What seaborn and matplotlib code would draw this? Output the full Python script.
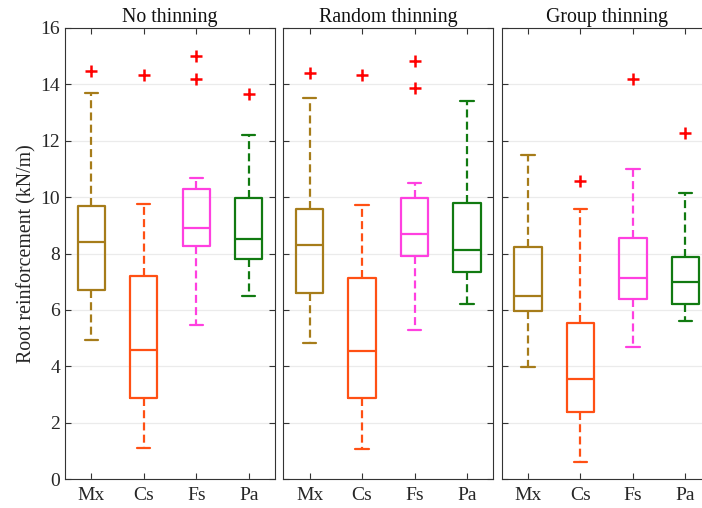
import numpy as np
import matplotlib
matplotlib.use("Agg")
import matplotlib.pyplot as plt
import seaborn as sns

# ---------------- data ----------------
species = ["Mx", "Cs", "Fs", "Pa"]
treatments = ["No thinning", "Random thinning", "Group thinning"]
colors = ["#A67C1A", "#FF5014", "#FF40E0", "#117A11"]

whisker_low = [[4.92, 1.09, 5.47, 6.50],
               [4.84, 1.06, 5.27, 6.22],
               [3.96, 0.60, 4.69, 5.60]]
quart1 = [[6.72, 2.88, 8.25, 7.82],
          [6.60, 2.86, 7.91, 7.35],
          [5.97, 2.39, 6.37, 6.20]]
medians = [[8.40, 4.58, 8.90, 8.53],
           [8.29, 4.55, 8.69, 8.13],
           [6.50, 3.54, 7.14, 6.98]]
quart3 = [[9.68, 7.19, 10.30, 9.97],
          [9.58, 7.14, 9.98, 9.80],
          [8.24, 5.52, 8.56, 7.86]]
whisker_high = [[13.68, 9.74, 10.69, 12.21],
                [13.53, 9.71, 10.50, 13.42],
                [11.48, 9.59, 11.01, 10.16]]
outliers = [[[14.48], [14.33], [15.02, 14.18], [13.65]],
            [[14.41], [14.32], [14.82, 13.86], []],
            [[], [10.57], [14.19], [12.26]]]

# ---------------- style ----------------
sns.set_theme(style="white")
plt.rcParams["font.family"] = ["Liberation Serif", "DejaVu Serif"]
plt.rcParams["font.size"] = 14

W, H = 702, 508
fig = plt.figure(figsize=(W / 100, H / 100), dpi=100)

lefts = [65.0, 283.3, 501.7]
pw, top, bottom = 210.0, 28.0, 479.0

for p, treat in enumerate(treatments):
    ax = fig.add_axes([lefts[p] / W, 1 - bottom / H, pw / W, (bottom - top) / H])
    ax.set_facecolor("white")
    stats = []
    for i, sp in enumerate(species):
        stats.append(dict(label=sp, whislo=whisker_low[p][i], q1=quart1[p][i],
                          med=medians[p][i], q3=quart3[p][i],
                          whishi=whisker_high[p][i], fliers=outliers[p][i]))
    res = ax.bxp(stats, positions=[1, 2, 3, 4], widths=0.52, capwidths=0.25,
                 showfliers=True, patch_artist=False, manage_ticks=False)
    for i in range(len(species)):
        c = colors[i]
        res["boxes"][i].set(color=c, linewidth=1.6)
        res["medians"][i].set(color=c, linewidth=1.6)
        for w in res["whiskers"][2 * i:2 * i + 2]:
            w.set(color=c, linewidth=1.6, linestyle=(0, (3.6, 1.9)))
        for cp in res["caps"][2 * i:2 * i + 2]:
            cp.set(color=c, linewidth=1.6)
        res["fliers"][i].set(marker="+", markeredgecolor="#FF0000",
                             markersize=8, markeredgewidth=1.8, linestyle="none")
    ax.set_xlim(0.5, 4.5)
    ax.set_ylim(0, 16)
    ax.set_yticks(np.arange(0, 17, 2))
    ax.set_xticks([1, 2, 3, 4])
    ax.set_xticklabels(species)
    ax.yaxis.grid(True, color="#EBEBEB", linewidth=0.9)
    ax.xaxis.grid(False)
    ax.set_axisbelow(True)
    for s in ax.spines.values():
        s.set_color("#333333")
        s.set_linewidth(0.8)
        s.set_visible(True)
    ax.tick_params(direction="in", length=4, width=0.8, color="#333333",
                   top=True, right=True, bottom=True, left=True,
                   labelcolor="#262626", labelsize=14)
    ax.tick_params(axis="x", pad=6)
    if p > 0:
        ax.tick_params(labelleft=False)
    else:
        ax.set_ylabel("Root reinforcement (kN/m)", fontsize=14.3, color="#262626",
                      labelpad=3)
    ax.set_title(treat, fontsize=14.3, color="#111111", pad=4)

fig.savefig("out.png", dpi=100)
